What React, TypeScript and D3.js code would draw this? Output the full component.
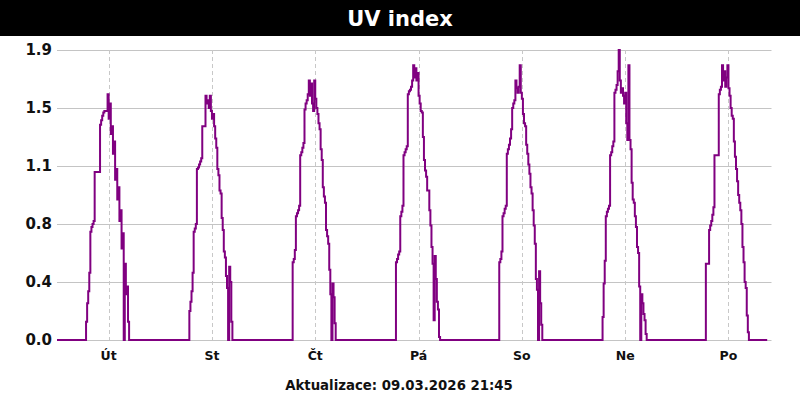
import React from "react";
import * as d3 from "d3";

// ---- data ----
const chartTitle = "UV index";
const footerText = "Aktualizace: 09.03.2026 21:45";
const dayLabels = ["Út", "St", "Čt", "Pá", "So", "Ne", "Po"];
const firstDay = new Date(2026, 2, 3, 0, 0);
const domainEnd = new Date(2026, 2, 9, 22, 0);
const dataEnd = new Date(2026, 2, 9, 21, 0);
const firstSlotMinute = 6 * 60 + 45; // 06:45
const slotMinutes = 15;
const yMax = 1.9;
const yTickLabels = ["0.0", "0.4", "0.8", "1.1", "1.5", "1.9"];

const utValues = [0.12, 0.24, 0.32, 0.44, 0.71, 0.74, 0.76, 0.78, 1.10, 1.10, 1.10, 1.10, 1.10, 1.41, 1.44, 1.47, 1.49, 1.50, 1.50, 1.50, 1.61, 1.45, 1.55, 1.35, 1.40, 1.22, 1.30, 1.05, 1.12, 0.92, 1.00, 0.78, 0.85, 0.60, 0.70, 0.0, 0.50, 0.30, 0.35, 0.12];
const stValues = [0.19, 0.25, 0.32, 0.44, 0.71, 0.73, 0.76, 1.12, 1.13, 1.15, 1.17, 1.19, 1.40, 1.40, 1.40, 1.60, 1.55, 1.57, 1.52, 1.60, 1.50, 1.45, 1.48, 1.40, 1.32, 1.26, 1.12, 1.08, 0.98, 0.96, 0.80, 0.72, 0.58, 0.54, 0.42, 0.34, 0.0, 0.48, 0.38, 0.12];
const ctValues = [0.51, 0.53, 0.59, 0.81, 0.83, 0.85, 0.88, 1.21, 1.23, 1.26, 1.29, 1.51, 1.55, 1.57, 1.61, 1.70, 1.60, 1.68, 1.55, 1.50, 1.70, 1.58, 1.52, 1.48, 1.42, 1.38, 1.25, 1.18, 1.00, 0.94, 0.90, 0.72, 0.68, 0.63, 0.46, 0.30, 0.0, 0.37, 0.28, 0.11];
const paValues = [0.51, 0.53, 0.56, 0.58, 0.81, 0.84, 0.88, 1.21, 1.23, 1.25, 1.27, 1.61, 1.63, 1.64, 1.66, 1.70, 1.80, 1.72, 1.78, 1.70, 1.75, 1.60, 1.55, 1.50, 1.49, 1.33, 1.18, 1.11, 1.07, 0.98, 0.98, 0.85, 0.75, 0.61, 0.50, 0.13, 0.55, 0.40, 0.25, 0.20, 0.02];
const soValues = [0.51, 0.53, 0.58, 0.81, 0.83, 0.86, 0.88, 1.22, 1.25, 1.28, 1.32, 1.38, 1.52, 1.55, 1.57, 1.70, 1.65, 1.62, 1.66, 1.80, 1.62, 1.58, 1.48, 1.42, 1.40, 1.28, 1.22, 1.15, 1.09, 1.00, 0.96, 0.85, 0.75, 0.63, 0.40, 0.33, 0.0, 0.45, 0.24, 0.10];
const neValues = [0.15, 0.37, 0.52, 0.81, 0.84, 0.86, 0.88, 1.21, 1.23, 1.27, 1.30, 1.62, 1.64, 1.67, 1.76, 1.90, 1.70, 1.62, 1.65, 1.60, 1.55, 1.62, 1.42, 1.31, 1.80, 1.31, 1.25, 1.03, 0.92, 0.90, 0.81, 0.74, 0.61, 0.57, 0.35, 0.0, 0.30, 0.24, 0.17, 0.13, 0.04];
const poValues = [0.50, 0.50, 0.50, 0.72, 0.75, 0.78, 0.82, 0.87, 1.21, 1.21, 1.21, 1.21, 1.61, 1.64, 1.66, 1.80, 1.70, 1.76, 1.66, 1.72, 1.80, 1.65, 1.60, 1.52, 1.47, 1.45, 1.30, 1.20, 1.12, 1.04, 0.95, 0.90, 0.85, 0.76, 0.61, 0.51, 0.38, 0.34, 0.16, 0.05];

const dayValues = [utValues, stValues, ctValues, paValues, soValues, neValues, poValues];

type Pt = { t: Date; v: number };

function buildPoints(): Pt[] {
  const pts: Pt[] = [];
  dayValues.forEach((vals, d) => {
    const day = d3.timeDay.offset(firstDay, d);
    pts.push({ t: day, v: 0 });
    vals.forEach((v, k) => {
      pts.push({ t: d3.timeMinute.offset(day, firstSlotMinute + k * slotMinutes), v });
    });
    pts.push({ t: d3.timeMinute.offset(day, firstSlotMinute + vals.length * slotMinutes), v: 0 });
  });
  pts.push({ t: dataEnd, v: 0 });
  return pts;
}

export default function App() {
  const W = 800;
  const H = 400;
  const left = 57;
  const right = 771.5;
  const top = 50;
  const bottom = 340;

  const x = d3.scaleTime().domain([firstDay, domainEnd]).range([left, right]);
  const y = d3.scaleLinear().domain([0, yMax]).range([bottom, top]);

  const points = buildPoints();
  const line = d3
    .line<Pt>()
    .x((d) => x(d.t))
    .y((d) => y(d.v))
    .curve(d3.curveStepAfter);

  const yTicks = yTickLabels.map((lab, i) => ({ v: (yMax * i) / (yTickLabels.length - 1), lab }));
  const noons = dayLabels.map((lab, i) => ({
    t: d3.timeHour.offset(d3.timeDay.offset(firstDay, i), 12),
    lab,
  }));

  const labelFont = "'DejaVu Sans', Verdana, sans-serif";

  return (
    <svg
      width={W}
      height={H}
      viewBox={`0 0 ${W} ${H}`}
      style={{ position: "absolute", left: 0, top: 0, background: "#ffffff" }}
    >
      <rect x={0} y={0} width={W} height={H} fill="#ffffff" />
      <rect x={0} y={0} width={W} height={36} fill="#000000" />
      <text
        x={W / 2}
        y={25.5}
        textAnchor="middle"
        fill="#ffffff"
        fontFamily={labelFont}
        fontWeight="bold"
        fontSize={21}
      >
        {chartTitle}
      </text>

      {/* horizontal gridlines */}
      {yTicks.map((tk) => (
        <line
          key={"g" + tk.lab}
          x1={left}
          x2={right}
          y1={Math.round(y(tk.v)) + 0.5}
          y2={Math.round(y(tk.v)) + 0.5}
          stroke="#c4c4c4"
          strokeWidth={1}
        />
      ))}
      {/* vertical dashed noon gridlines */}
      {noons.map((n) => (
        <line
          key={"v" + n.lab}
          x1={Math.round(x(n.t)) + 0.5}
          x2={Math.round(x(n.t)) + 0.5}
          y1={top}
          y2={bottom}
          stroke="#c8c8c8"
          strokeWidth={1}
          strokeDasharray="4,3"
        />
      ))}

      {/* y labels */}
      {yTicks.map((tk) => (
        <text
          key={"yl" + tk.lab}
          x={52}
          y={y(tk.v)}
          dy="0.36em"
          textAnchor="end"
          fontFamily={labelFont}
          fontWeight="bold"
          fontSize={15}
          fill="#111111"
        >
          {tk.lab}
        </text>
      ))}

      {/* x labels */}
      {noons.map((n) => (
        <text
          key={"xl" + n.lab}
          x={x(n.t)}
          y={360}
          textAnchor="middle"
          fontFamily={labelFont}
          fontWeight="bold"
          fontSize={12.5}
          fill="#111111"
        >
          {n.lab}
        </text>
      ))}

      <path d={line(points) || ""} fill="none" stroke="#800080" strokeWidth={2} />

      <text
        x={399}
        y={389.5}
        textAnchor="middle"
        fontFamily={labelFont}
        fontWeight="bold"
        fontSize={13.3}
        fill="#111111"
      >
        {footerText}
      </text>
    </svg>
  );
}
